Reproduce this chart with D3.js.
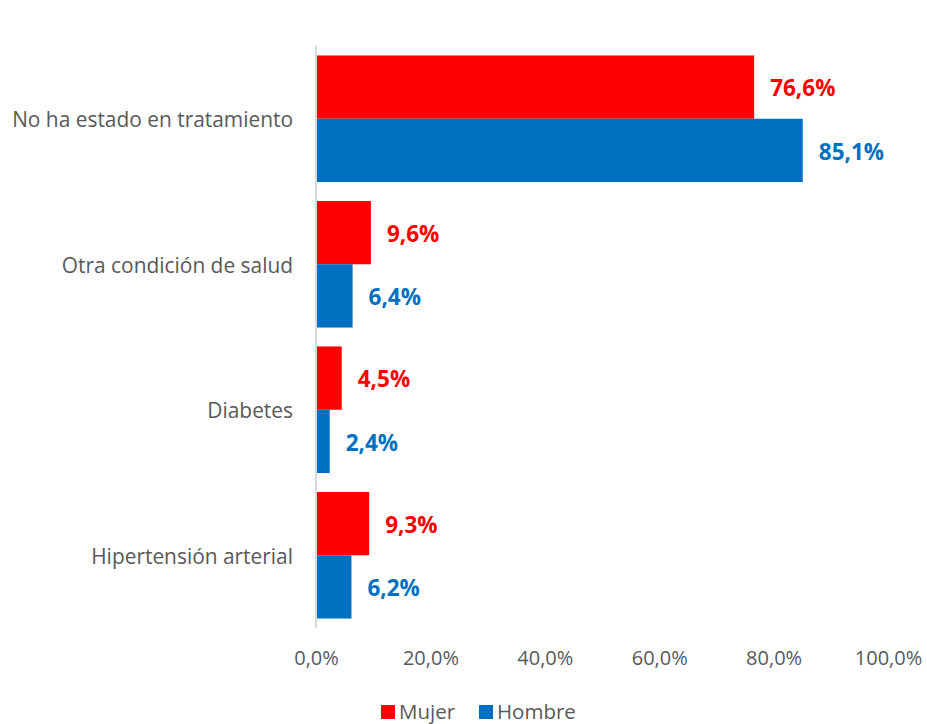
<!DOCTYPE html>
<html>
<head>
<meta charset="utf-8">
<script src="https://d3js.org/d3.v7.min.js"></script>
<style>
body { margin: 0; background: #fff; }
text { font-family: "Open Sans", sans-serif; }
</style>
</head>
<body>
<svg id="chart" width="927" height="724"></svg>
<script>
// categorias de arriba hacia abajo
var categorias = ["No ha estado en tratamiento", "Otra condición de salud", "Diabetes", "Hipertensión arterial"];
var series = ["Mujer", "Hombre"];
var mujer = [76.6, 9.6, 4.5, 9.3];
var hombre = [85.1, 6.4, 2.4, 6.2];
var ticks = [0, 20, 40, 60, 80, 100];
var colores = {Mujer: "#ff0000", Hombre: "#0070c0"};
var FUENTE = "'Open Sans', sans-serif";

var svg = d3.select("#chart");
var fmt = function(v){ return v.toFixed(1).replace(".", ",") + "%"; };

var x = d3.scaleLinear().domain([0, 100]).range([316, 888]);
var y = d3.scaleBand().domain(categorias).range([46, 628]).paddingInner(0.13).paddingOuter(0.065);
var ys = d3.scaleBand().domain(series).range([0, y.bandwidth()]);

var data = [];
categorias.forEach(function(c, i){
    data.push({cat:c, serie:"Mujer", val:mujer[i]});
    data.push({cat:c, serie:"Hombre", val:hombre[i]});
});

// barras
svg.selectAll("rect.bar")
    .data(data)
    .enter()
    .append("rect")
    .attr("class","bar")
    .attr("x", x(0)+1)
    .attr("y", function(d){ return y(d.cat) + ys(d.serie); })
    .attr("width", function(d){ return x(d.val) - x(0) - 1; })
    .attr("height", ys.bandwidth())
    .attr("fill", function(d){ return colores[d.serie]; });

// etiquetas de datos
svg.selectAll("text.val")
    .data(data)
    .enter()
    .append("text")
    .attr("class","val")
    .attr("x", function(d){ return x(d.val) + 16; })
    .attr("y", function(d){ return y(d.cat) + ys(d.serie) + ys.bandwidth()/2 + 1.5; })
    .attr("dy","0.35em")
    .attr("fill", function(d){ return colores[d.serie]; })
    .attr("font-size", 22.5)
    .attr("font-weight","bold")
    .text(function(d){ return fmt(d.val); });

// eje vertical
var yAxis = svg.append("g")
    .attr("transform","translate(" + x(0) + ",0)")
    .call(d3.axisLeft(y).tickSize(0).tickPadding(23));
yAxis.select(".domain").attr("stroke","#d9d9d9").attr("stroke-width",2)
    .attr("d","M0,46V628");
yAxis.selectAll("text").attr("font-size",20.9).attr("fill","#595959")
    .attr("dy","0.4em")
    .style("font-family",FUENTE);

// eje horizontal (solo etiquetas)
var xAxis = svg.append("g")
    .attr("transform","translate(0,651)")
    .call(d3.axisBottom(x).tickValues(ticks).tickSize(0).tickPadding(0)
        .tickFormat(function(d){ return fmt(d); }));
xAxis.select(".domain").remove();
xAxis.selectAll("text").attr("font-size",20).attr("fill","#595959")
    .style("font-family",FUENTE);

// leyenda
var ley = svg.append("g").attr("transform","translate(381,705)");
var lx = [0, 98];
series.forEach(function(s, i){
    var g = ley.append("g").attr("transform","translate(" + lx[i] + ",0)");
    g.append("rect").attr("width",14).attr("height",14).attr("fill",colores[s]);
    g.append("text").attr("x",18).attr("y",7).attr("dy","0.35em")
        .attr("font-size",20.5).attr("fill","#595959").text(s);
});
</script>
</body>
</html>
